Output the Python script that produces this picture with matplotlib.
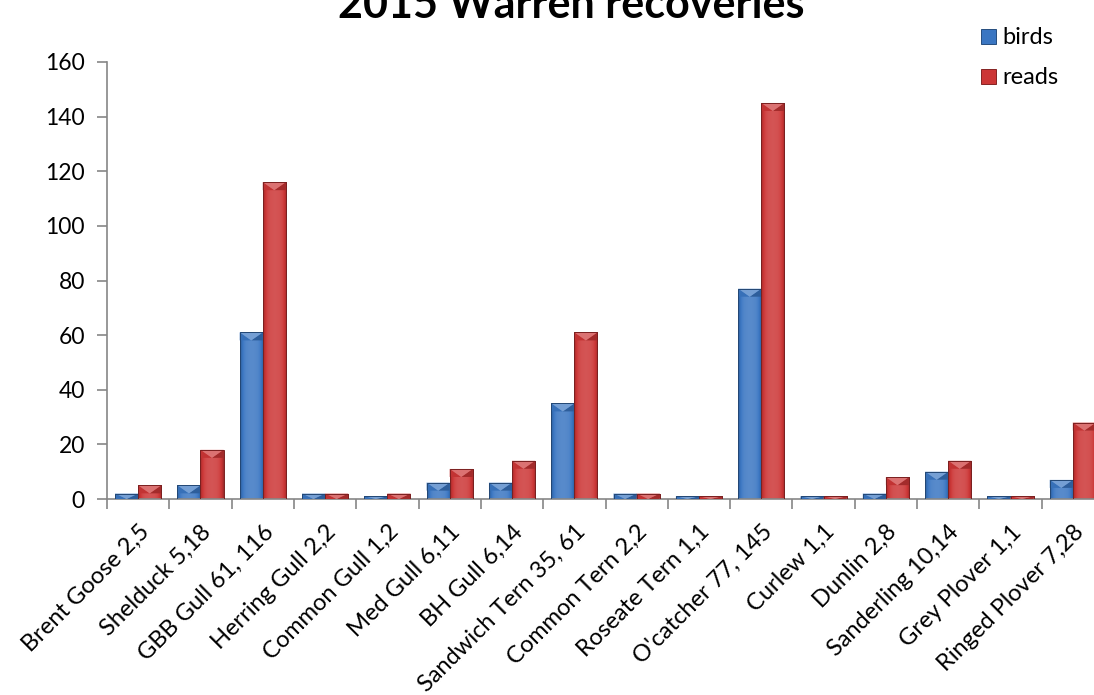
import numpy as np
import matplotlib
matplotlib.use("Agg")
import matplotlib.pyplot as plt
from matplotlib.patches import Polygon
from matplotlib.colors import to_rgb

categories = ["Brent Goose 2,5", "Shelduck 5,18", "GBB Gull 61, 116", "Herring Gull 2,2",
              "Common Gull 1,2", "Med Gull 6,11", "BH Gull 6,14", "Sandwich Tern 35, 61",
              "Common Tern 2,2", "Roseate Tern 1,1", "O'catcher 77, 145", "Curlew 1,1",
              "Dunlin 2,8", "Sanderling 10,14", "Grey Plover 1,1", "Ringed Plover 7,28"]
birds = [2, 5, 61, 2, 1, 6, 6, 35, 2, 1, 77, 1, 2, 10, 1, 7]
reads = [5, 18, 116, 2, 2, 11, 14, 61, 2, 1, 145, 1, 8, 14, 1, 28]
series_names = ["birds", "reads"]
yticks = [0, 20, 40, 60, 80, 100, 120, 140, 160]

plt.rcParams["font.family"] = ["Lato", "DejaVu Sans"]

W, H, DPI = 1094, 695, 100
fig = plt.figure(figsize=(W / DPI, H / DPI), dpi=DPI)
ax = fig.add_axes([107 / W, 1 - 499 / H, (1104 - 107) / W, (499 - 62) / H])

blue = "#3a76c2"
red = "#cc3636"
bw = 0.37
x = np.arange(len(categories))

def shade(c, f):
    r = np.array(to_rgb(c))
    if f >= 0:
        return tuple(r + (1 - r) * f)
    return tuple(r * (1 + f))

def bevel_bars(container, color):
    # horizontal shading across each bar plus a lighter bevel at its top
    grad = np.linspace(0, 1, 64)
    prof = 0.15 * np.sin(np.pi * grad) ** 0.7 - 0.25 * (1 - np.sin(np.pi * grad)) ** 3
    img = np.zeros((1, 64, 3))
    for i, p in enumerate(prof):
        img[0, i] = shade(color, p)
    px_per_unit = ax.bbox.height / (ax.get_ylim()[1] - ax.get_ylim()[0])
    bev = 8 / px_per_unit
    for rect in container.patches:
        x0, w, h = rect.get_x(), rect.get_width(), rect.get_height()
        rect.set_facecolor("none")
        rect.set_edgecolor(shade(color, -0.4))
        rect.set_linewidth(0.7)
        im = ax.imshow(img, extent=[x0, x0 + w, 0, h], aspect="auto",
                       interpolation="bilinear", zorder=2)
        im.set_clip_path(rect)
        b = min(bev, h)
        ax.add_patch(Polygon([(x0, h), (x0 + w / 2, h - b), (x0, h - b)],
                             closed=True, facecolor=shade(color, -0.05),
                             edgecolor="none", zorder=3))
        ax.add_patch(Polygon([(x0 + w, h), (x0 + w / 2, h - b), (x0 + w, h - b)],
                             closed=True, facecolor=shade(color, -0.2),
                             edgecolor="none", zorder=3))
        ax.add_patch(Polygon([(x0, h), (x0 + w, h), (x0 + w / 2, h - b)],
                             closed=True, facecolor=shade(color, 0.3),
                             edgecolor="none", zorder=3))
        rect.set_zorder(4)

ax.set_xlim(-0.5, len(categories) - 0.5)
ax.set_ylim(0, 160)

b1 = ax.bar(x - bw / 2, birds, bw, color=blue, label=series_names[0])
b2 = ax.bar(x + bw / 2, reads, bw, color=red, label=series_names[1])
bevel_bars(b1, blue)
bevel_bars(b2, red)

ax.set_yticks(yticks)
ax.set_xticks(np.arange(len(categories) + 1) - 0.5, minor=False)
ax.set_xticklabels([])
ax.set_xticks(x, minor=True)
ax.set_xticklabels(categories, minor=True, rotation=45, ha="right",
                   rotation_mode="anchor", fontsize=17)
ax.tick_params(axis="x", which="minor", length=0, pad=16)
ax.tick_params(axis="x", which="major", length=7, color="#868686", width=1.2)
ax.tick_params(axis="y", length=7, color="#868686", width=1.2, labelsize=16.5, pad=9)

for s in ["top", "right"]:
    ax.spines[s].set_visible(False)
for s in ["left", "bottom"]:
    ax.spines[s].set_color("#868686")
    ax.spines[s].set_linewidth(1.2)

fig.text(571 / W, 1 - 18 / H, "2015 Warren recoveries", ha="center", va="baseline",
         fontsize=31, fontweight="bold")

leg = fig.legend(handles=[b1, b2], labels=series_names, loc="upper left",
                 bbox_to_anchor=(972 / W, 1 - 18 / H), frameon=False, fontsize=17,
                 handlelength=0.6, handleheight=0.6, handletextpad=0.3,
                 labelspacing=0.8, borderaxespad=0)
for hnd, c in zip(leg.legend_handles, [blue, red]):
    hnd.set_facecolor(c)
    hnd.set_edgecolor(shade(c, -0.35))

fig.savefig("out.png", dpi=DPI)
